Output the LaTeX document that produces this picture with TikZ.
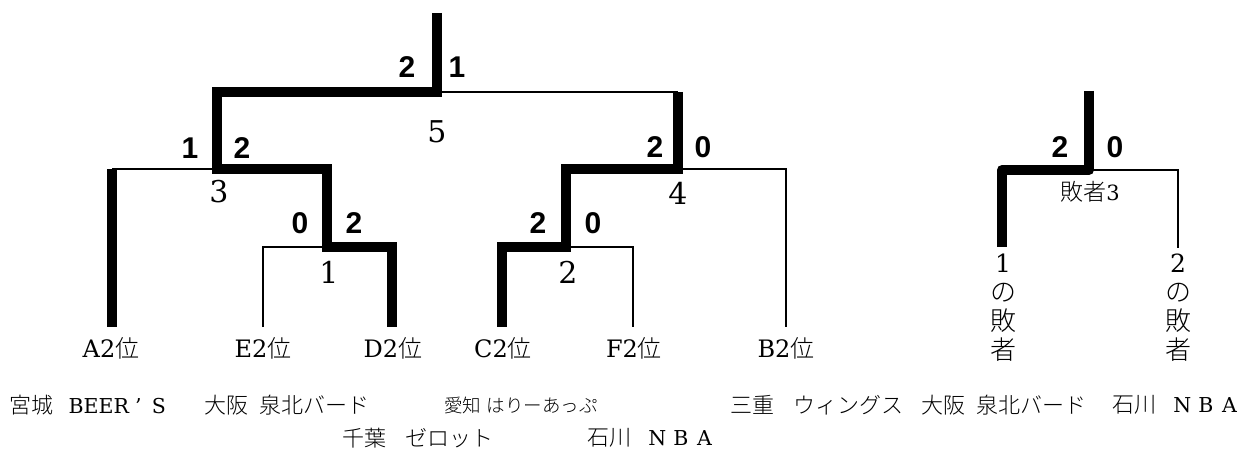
\documentclass[tikz,border=0pt]{standalone}
\usepackage{fontspec}
\setmainfont{DejaVu Serif}
\IfFontExistsTF{Noto Sans CJK JP Light}{\newfontfamily\cjk{Noto Sans CJK JP Light}}{\newfontfamily\cjk{Noto Sans CJK JP}}
\newfontfamily\scorefont{Liberation Sans}
\newcommand{\fwl}[1]{\makebox[1.15em]{#1}}
\newcommand{\jp}[2]{{\cjk\fontsize{#1}{#1}\selectfont #2}}
\begin{document}
\begin{tikzpicture}[x=1pt,y=-1pt,
  win/.style={line width=10pt,line join=miter,line cap=butt},
  winr/.style={line width=10pt,line join=round,line cap=butt},
  lose/.style={line width=1.8pt},
  score/.style={font=\scorefont\bfseries\fontsize{30}{32}\selectfont,inner sep=0pt},
  num/.style={font=\fontsize{30}{33}\selectfont,inner sep=0pt},
  leaf/.style={font=\fontsize{24}{25}\selectfont,inner sep=0pt},
  team/.style={font=\fontsize{20.5}{22}\selectfont,inner sep=0pt,anchor=west},
  vert/.style={font=\fontsize{25}{29}\selectfont,inner sep=0pt,align=center}]
\fill[white] (0,0) rectangle (1247,457);
\useasboundingbox (0,0) rectangle (1247,457);
% junctions
\coordinate (top) at (437,13);
\coordinate (c5) at (437,92);
\coordinate (c5L) at (217,92);
\coordinate (c5R) at (678,92);
\coordinate (c3) at (217,169);
\coordinate (c3L) at (112,169);
\coordinate (c3R) at (327,169);
\coordinate (c1) at (327,247);
\coordinate (c1L) at (263,247);
\coordinate (c1R) at (392,247);
\coordinate (c4) at (678,169);
\coordinate (c4L) at (566,169);
\coordinate (c4R) at (786,169);
\coordinate (c2) at (566,247);
\coordinate (c2L) at (502,247);
\coordinate (c2R) at (633,247);
\coordinate (tA) at (112,327);
\coordinate (tE) at (263,327);
\coordinate (tD) at (392,327);
\coordinate (tC) at (502,327);
\coordinate (tF) at (633,327);
\coordinate (tB) at (786,327);
% thin lines
\draw[lose] (c5) -- (c5R);
\draw[lose] (c3L) -- (c3);
\draw[lose] (tE) -- (c1L) -- (c1);
\draw[lose] (c2) -- (c2R) -- (tF);
\draw[lose] (c4) -- (c4R) -- (tB);
% thick lines
\draw[win] (top) -- (c5) -- (c5L) -- (c3) -- (c3R) -- (c1) -- (c1R) -- (tD);
\draw[win] (c5R) -- (c4) -- (c4L) -- (c2) -- (c2L) -- (tC);
\draw[win] (c3L) -- (tA);
% scores
\node[score] (s5a) at (407,67) {2};
\node[score] (s5b) at (457,67) {1};
\node[score] (s3a) at (190,148) {1};
\node[score] (s3b) at (242,148) {2};
\node[score] (s1a) at (300,223) {0};
\node[score] (s1b) at (354,223) {2};
\node[score] (s4a) at (655,147) {2};
\node[score] (s4b) at (703,147) {0};
\node[score] (s2a) at (538,223) {2};
\node[score] (s2b) at (593,223) {0};
% match numbers
\node[num] (n5) at (437,132) {5};
\node[num] (n3) at (219,192) {3};
\node[num] (n1) at (329,272) {1};
\node[num] (n4) at (678,193) {4};
\node[num] (n2) at (568,272) {2};
% leaves
\node[leaf] (A) at (111,348) {A2\jp{24}{位}};
\node[leaf] (E) at (263,348) {E2\jp{24}{位}};
\node[leaf] (D) at (393,348) {D2\jp{24}{位}};
\node[leaf] (C) at (503,348) {C2\jp{24}{位}};
\node[leaf] (F) at (634,348) {F2\jp{24}{位}};
\node[leaf] (B) at (786,348) {B2\jp{24}{位}};
% loser bracket
\coordinate (ltop) at (1089,91);
\coordinate (l3) at (1089,170);
\coordinate (l3L) at (1002,170);
\coordinate (l3R) at (1178,170);
\coordinate (lt1) at (1002,247);
\coordinate (lt2) at (1178,248);
\draw[lose] (l3) -- (l3R) -- (lt2);
\draw[winr] (ltop) -- (l3) -- (l3L) -- (lt1);
\node[score] (ls1) at (1060,147) {2};
\node[score] (ls2) at (1115,147) {0};
\node[leaf,font=\fontsize{21}{23}\selectfont] (l3n) at (1090,192) {\jp{23}{敗者}3};
\node[vert] (v1) at (1003,308) {1\\\jp{26}{の}\\\jp{26}{敗}\\\jp{26}{者}};
\node[vert] (v2) at (1178,308) {2\\\jp{26}{の}\\\jp{26}{敗}\\\jp{26}{者}};
% teams
\node[team] (tm1) at (9,405) {\jp{22}{宮城}\hspace{0.75em}BEER\hspace{0.3em}’\hspace{0.5em}S};
\node[team] (tm2) at (204,405) {\jp{22}{大阪\hspace{0.5em}泉北バード}};
\node[team] (tm3) at (444,405) {\jp{18.5}{愛知\hspace{0.3em}はりーあっぷ}};
\node[team] (tm4) at (730,405) {\jp{22}{三重\hspace{0.9em}ウィングス}};
\node[team] (tm5) at (921,405) {\jp{22}{大阪\hspace{0.5em}泉北バード}};
\node[team] (tm6) at (1112,405) {\jp{22}{石川}\hspace{0.7em}\fwl{N}\fwl{B}\fwl{A}};
\node[team] (tm7) at (342,438) {\jp{22}{千葉\hspace{0.9em}ゼロット}};
\node[team] (tm8) at (587,438) {\jp{22}{石川}\hspace{0.7em}\fwl{N}\fwl{B}\fwl{A}};
\end{tikzpicture}
\end{document}
